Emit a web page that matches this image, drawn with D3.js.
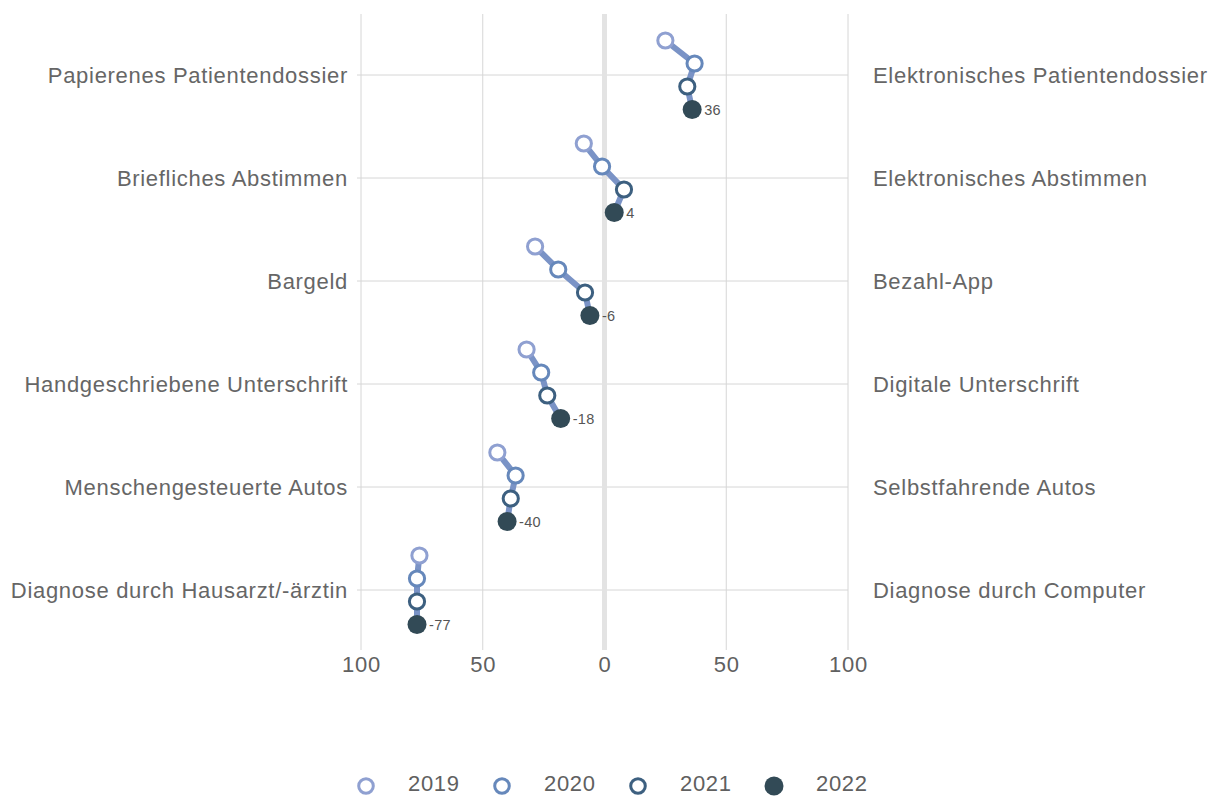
<!DOCTYPE html>
<html><head><meta charset="utf-8">
<script src="https://cdn.jsdelivr.net/npm/d3@7"></script>
<style>body{margin:0;background:#fff;} text{font-family:"Liberation Sans",Arial,sans-serif;}</style>
</head><body>
<svg id="c" width="1215" height="796"></svg>
<script>
const leftLabels = ["Papierenes Patientendossier","Briefliches Abstimmen","Bargeld","Handgeschriebene Unterschrift","Menschengesteuerte Autos","Diagnose durch Hausarzt/-ärztin"];
const rightLabels = ["Elektronisches Patientendossier","Elektronisches Abstimmen","Bezahl-App","Digitale Unterschrift","Selbstfahrende Autos","Diagnose durch Computer"];
const years = ["2019","2020","2021","2022"];
const v2019 = [25, -8.5, -28.5, -32, -44, -76];
const v2020 = [37, -1, -19, -26, -36.5, -77];
const v2021 = [34, 8, -8, -23.5, -38.5, -77];
const v2022 = [36, 4, -6, -18, -40, -77];
const tickValues = [-100, -50, 0, 50, 100];
const colors = ["#8fa0d1", "#6688bb", "#3d6080", "#324a56"];

const series = [v2019, v2020, v2021, v2022];
const svg = d3.select("#c");
const x = d3.scaleLinear().domain([-100, 100]).range([361, 848]);
const y = d3.scalePoint().domain(leftLabels).range([75, 590]);
const yo = d3.scalePoint().domain(years).range([-34.5, 34.5]);

// horizontal grid
svg.append("g").selectAll("line").data(leftLabels).join("line")
  .attr("x1", x(-100) - 4).attr("x2", x(100)).attr("y1", d => y(d)).attr("y2", d => y(d))
  .attr("stroke", "#d6d6d6").attr("stroke-width", 1);
// vertical grid
svg.append("g").selectAll("line").data(tickValues.filter(t => t !== 0)).join("line")
  .attr("x1", d => x(d)).attr("x2", d => x(d)).attr("y1", 14).attr("y2", 650)
  .attr("stroke", "#d6d6d6").attr("stroke-width", 1);
svg.append("line").attr("x1", x(0)).attr("x2", x(0)).attr("y1", 14).attr("y2", 650)
  .attr("stroke", "#e3e3e3").attr("stroke-width", 5);

// x axis labels
const xa = svg.append("g").attr("transform", "translate(0,670)")
  .call(d3.axisBottom(x).tickValues(tickValues).tickSize(0).tickPadding(0).tickFormat(d => Math.abs(d)));
xa.select(".domain").remove();
xa.selectAll("text").attr("font-size", 22).attr("letter-spacing", "0.7px").attr("fill", "#606060").attr("dy", "0.1em");

// left/right labels
svg.append("g").selectAll("text").data(leftLabels).join("text")
  .attr("x", 348).attr("y", d => y(d)).attr("dy", "0.35em").attr("text-anchor", "end")
  .attr("font-size", 22).attr("letter-spacing", "0.7px").attr("fill", "#666").text(d => d);
svg.append("g").selectAll("text").data(rightLabels).join("text")
  .attr("x", 873).attr("y", (d, i) => y(leftLabels[i])).attr("dy", "0.35em").attr("text-anchor", "start")
  .attr("font-size", 22).attr("letter-spacing", "0.7px").attr("fill", "#666").text(d => d);

// connecting lines
const line = d3.line().x(d => x(d.v)).y(d => d.y);
leftLabels.forEach((c, i) => {
  const pts = years.map((yr, j) => ({v: series[j][i], y: y(c) + yo(yr)}));
  svg.append("path").attr("d", line(pts)).attr("fill", "none")
    .attr("stroke", "#7a93c6").attr("stroke-width", 6);
});

// points
years.forEach((yr, j) => {
  svg.append("g").selectAll("circle").data(leftLabels).join("circle")
    .attr("cx", (c, i) => x(series[j][i])).attr("cy", c => y(c) + yo(yr))
    .attr("r", j === 3 ? 9.5 : 7.6)
    .attr("fill", j === 3 ? colors[3] : "#fff")
    .attr("stroke", colors[j]).attr("stroke-width", j === 3 ? 0 : 3);
});

// value labels
svg.append("g").selectAll("text").data(leftLabels).join("text")
  .attr("x", (c, i) => x(v2022[i]) + 12).attr("y", c => y(c) + yo("2022")).attr("dy", "0.35em")
  .attr("font-size", 14.5).attr("letter-spacing", "0.3px").attr("fill", "#555").text((c, i) => v2022[i]);

// legend
const lx = [366, 502, 638, 774];
const lg = svg.append("g");
years.forEach((yr, j) => {
  lg.append("circle").attr("cx", lx[j]).attr("cy", 786).attr("r", j === 3 ? 9.5 : 7.3)
    .attr("fill", j === 3 ? colors[3] : "#fff").attr("stroke", colors[j]).attr("stroke-width", j === 3 ? 0 : 3);
  lg.append("text").attr("x", lx[j] + 42).attr("y", 783.5).attr("dy", "0.35em")
    .attr("font-size", 22).attr("letter-spacing", "0.7px").attr("fill", "#606060").text(yr);
});
</script>
</body></html>
